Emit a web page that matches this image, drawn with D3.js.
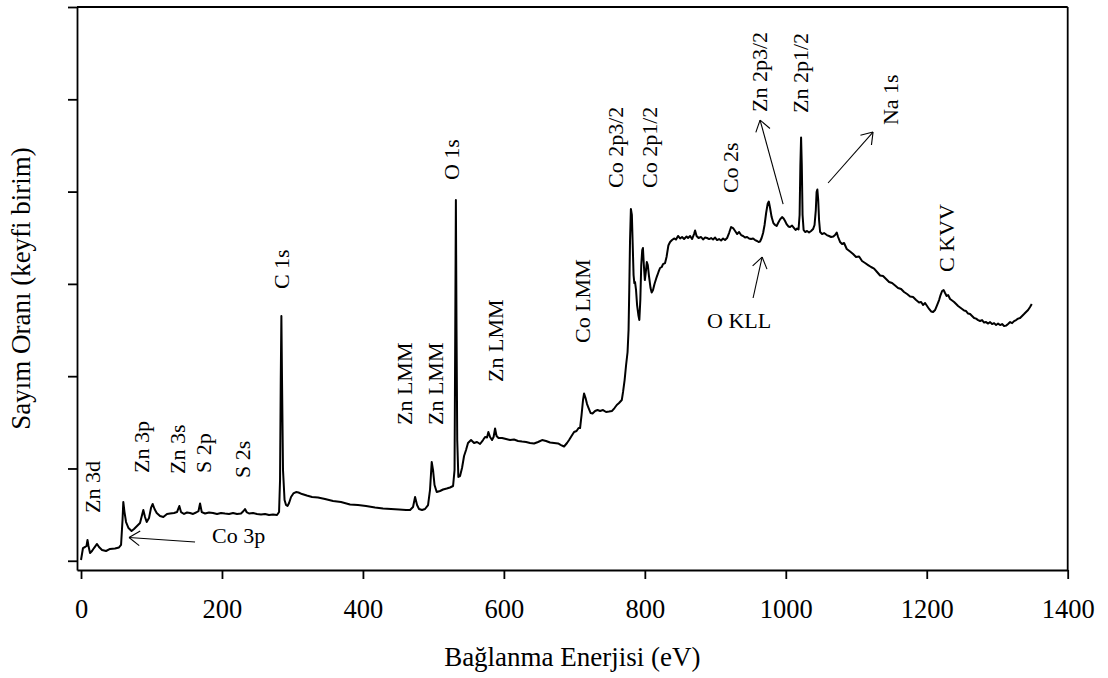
<!DOCTYPE html>
<html><head><meta charset="utf-8">
<script src="https://cdn.jsdelivr.net/npm/d3@7"></script>
<style>
html,body{margin:0;padding:0;background:#fff;}
svg{display:block;}
text{font-family:"Liberation Serif","Times New Roman",serif;fill:#000;}
</style></head>
<body>
<svg id="chart" width="1108" height="678"></svg>
<script>
// XPS survey spectrum: [binding energy (eV), count rate (arb.)]
const spectrum = [[0,0.8],[2.8,13.8],[5.7,14.9],[7.8,16],[9.2,22.5],[10.6,16],[12.8,8.4],[15.6,10.6],[18.4,13.8],[22.7,18.2],[25.5,14.9],[29.8,11.7],[35.5,10.6],[41.2,12.8],[48.2,13.3],[53.9,14.4],[56.8,17.1],[58.9,44.2],[60.0,63.7],[61.7,52.8],[63.9,42],[67.4,35.5],[71.7,32.3],[75.2,34.4],[79.5,37.7],[83.7,40.9],[86.6,49.6],[88.4,55],[90.8,47.4],[93.2,42],[96.5,46.3],[99.3,57.2],[101.7,61.5],[104.3,56.1],[107.4,51.8],[112.1,48.5],[116.8,47.4],[122,50.7],[126.3,51.2],[132,51.8],[136.2,52.8],[139.5,59.3],[141.9,52.8],[146.2,50.7],[150.4,52.3],[154.7,51.8],[159,50.7],[163.2,52.3],[166.7,53.9],[168.9,62],[171.3,52.8],[176,51.2],[181.6,52.3],[187.3,51.8],[193,50.7],[198.7,51.8],[204.3,51.2],[210,50.7],[215.7,51.8],[221.4,50.7],[227,51.2],[230.6,53.9],[232.7,56.1],[234.9,52.8],[238.4,51.2],[244.1,51.8],[249.7,50.7],[255.4,50.1],[261.1,50.7],[266.8,49.6],[272.4,50.1],[278.1,49.6],[281,52.8],[282.4,87.5],[283.4,195.8],[284.3,265.2],[285.2,195.8],[286.6,98.3],[288.8,65.8],[290.9,60.4],[293.0,59.3],[295.2,62.6],[298,69.1],[301.3,72.9],[305.1,74.5],[308.6,74],[313.6,72.3],[320.3,70.7],[327.8,69.1],[336.3,68.5],[346.2,66.9],[357.6,64.8],[368.9,63.7],[381.7,61],[393,60.4],[404.4,59.3],[417.2,57.7],[428.5,56.6],[439.9,56.1],[451.2,55.5],[461.2,55],[466.9,55],[471.1,58.3],[474,69.1],[476.8,60.4],[479.6,56.1],[483.9,55],[488.1,56.1],[492.4,60.4],[495.2,76.7],[497.6,107],[499.5,98.3],[501.6,82.1],[504.7,74.5],[509.4,75.6],[513.7,77.2],[518.9,78.3],[523.6,79.4],[527.9,81],[530,98.3],[531,250],[531.9,390.9],[532.8,250],[533.8,130.8],[535.4,90.8],[537.8,91.8],[540.6,100.5],[543.5,113.5],[546.3,120],[549.1,127.6],[553.4,130.8],[557.7,127.6],[561.9,128.7],[566.2,126.5],[570.4,130.8],[573.3,134.1],[576.1,133.6],[578,139.5],[580.4,134.1],[583.2,130.8],[585.4,134.1],[587.5,143.3],[589.6,135.2],[592.4,133],[597.4,133],[603.1,131.9],[608.8,130.8],[614.4,131.4],[620.1,129.8],[625.8,129.2],[631.5,128.7],[637.1,127.6],[642.8,127.1],[648.5,128.7],[654.2,130.8],[659.8,129.8],[665.5,128.1],[671.2,127.6],[676.9,127.1],[681.1,125.4],[685.4,123.8],[689.6,127.6],[692.5,130.8],[696,135.2],[699.6,139.5],[703.1,140.6],[706,143.8],[708.1,143.8],[710.2,157.9],[712.3,174.2],[713.8,181.2],[715.9,176.3],[718,169.8],[720.2,165.5],[723,160.1],[725.8,159.6],[729.4,162.3],[732.9,163.3],[736.5,162.3],[740.7,163.3],[745,161.2],[749.2,161.7],[753.5,162.3],[757,165.5],[760.2,168.8],[763.4,170.9],[767.3,174.2],[769.1,182.9],[771.3,195.8],[773.4,212.1],[775.5,226.2],[776.9,250],[777.9,293.4],[779,347.5],[780.2,381.1],[781.6,374.6],[783,336.7],[784,309.6],[785.1,300.9],[786.1,302],[787.5,293.4],[789,277.1],[790.8,266.3],[792.2,260.9],[793.6,282.5],[794.9,320.4],[796.3,336.7],[797.3,338.9],[798.6,320.4],[800,304.2],[801.4,312.9],[802.8,323.7],[804.2,320.4],[805.9,308.5],[808.1,295.5],[809.7,290.6],[811.6,293.4],[813.7,299.8],[816.8,307.4],[819.4,312.9],[821.6,317.2],[824,318.3],[825.8,321.5],[828.7,322.6],[830.8,329.1],[833.4,341.6],[835.8,345.4],[838.6,347.5],[841.5,349.2],[844.3,348.1],[847.1,351.9],[850,349.2],[852.8,350.8],[855.7,348.6],[859.2,351.3],[861.3,349.7],[864.2,351.9],[867,348.6],[869.8,354],[871.3,357.8],[873.4,351.9],[876.2,349.7],[879.8,350.8],[882.6,348.1],[885.5,350.2],[888.3,349.7],[891.2,348.6],[894,349.7],[896.8,348.1],[899.7,350.2],[902.5,347.5],[905.3,348.6],[908.2,347],[911,349.2],[913.8,347.5],[916.7,349.7],[919.5,355.1],[922.4,361.6],[925.2,360.5],[928.1,357.3],[930.9,354],[933.7,356.2],[936.6,352.9],[939.4,351.9],[942.2,350.2],[945.1,350.8],[947.9,349.2],[950.8,348.6],[953.6,349.2],[956.4,347.5],[959.3,346.5],[961.4,345.4],[963.5,345.9],[965.7,349.7],[967.8,355.1],[969.9,363.8],[972.1,376.8],[974.2,386.5],[975.9,389.2],[977.7,382.2],[979.9,372.4],[982.4,365.9],[984.8,363.8],[987,362.7],[989.1,365.9],[991.9,369.9],[994.7,372.4],[996.9,370.8],[999,368.1],[1001.1,364.8],[1003.7,362.2],[1006.1,361.6],[1008.9,363.2],[1011.8,360.5],[1013.9,358.4],[1016,360],[1018.1,358.9],[1019.6,374.6],[1020.7,428.8],[1021.7,458.6],[1022.7,428.8],[1023.8,374.6],[1025.3,358.4],[1027.4,356.2],[1030.2,357.3],[1033,355.7],[1035.9,357.3],[1038.7,359.4],[1040.8,363.8],[1042.6,380],[1043.7,399.5],[1044.8,402.2],[1046,390.9],[1047.2,369.2],[1048.7,356.2],[1051.5,354],[1054.3,355.1],[1058.2,352.9],[1061.4,351.9],[1064.3,350.8],[1067.5,351.3],[1069.9,352.9],[1072.3,355.7],[1074.2,350.8],[1077,345.4],[1079.9,343.2],[1082.7,344.3],[1086.5,337.8],[1091.2,335.1],[1095.5,332.4],[1099.7,329.1],[1104,329.7],[1108.2,324.8],[1112.5,322.6],[1116.8,320.4],[1121,318.3],[1125.3,316.6],[1129.5,312.9],[1133.8,309.1],[1138,308.5],[1142.3,305.3],[1146.6,302],[1150.8,300.9],[1155.1,298.2],[1159.3,295.5],[1163.6,294.4],[1167.8,291.2],[1172.1,289],[1176.4,286.3],[1180.6,285.8],[1184.9,282.5],[1189.1,279.8],[1192,280.4],[1194.8,277.1],[1197.6,279.3],[1200.5,276],[1203.3,272.8],[1206.2,270.1],[1209,269.5],[1211.8,271.7],[1214.7,277.1],[1217.5,282.5],[1219.6,287.9],[1221.8,292.3],[1223.9,293.4],[1226,290.1],[1228.2,286.9],[1230.3,287.9],[1233.1,283.6],[1236,282],[1238.8,280.4],[1241.7,278.2],[1244.5,276],[1247.3,274.4],[1250.2,272.8],[1253,271.1],[1255.8,270.6],[1258.7,267.9],[1261.5,267.3],[1264.3,265.2],[1267.2,263],[1270,262.4],[1272.9,260.8],[1275.7,259.8],[1278.5,260.8],[1281.4,258.1],[1284.2,258.6],[1287.1,257],[1289.9,258.6],[1292.7,256.5],[1295.5,257.5],[1298.4,255.4],[1301.2,257],[1304.1,255.4],[1306.9,256.5],[1309.7,254.3],[1312.6,254.8],[1315.4,256.5],[1318.3,258.6],[1321.1,257.5],[1323.9,259.7],[1326.8,260.8],[1329.6,262.4],[1332.4,263],[1335.3,265.2],[1338.1,267.3],[1340.9,269.5],[1343.8,271.7],[1346.6,274.9],[1349,278.2]];

const xTicks = [0, 200, 400, 600, 800, 1000, 1200, 1400];
const yTicks = [0, 100, 200, 300, 400, 500, 600];

// vertical peak labels: text, energy, count level of text start
const peakLabels = ["Zn 3d","Zn 3p","Zn 3s","S 2p","S 2s","C 1s","Zn LMM","Zn LMM","Zn LMM","Co LMM","O 1s","Co 2p3/2","Co 2p1/2","Co 2s","Zn 2p3/2","Zn 2p1/2","Na 1s","C KVV"];
const peakLabelE = [16.3,86.6,137.6,174.5,229.9,285.2,459.8,503.7,588.9,712.3,526.4,759.2,807.5,922.4,962.5,1021.7,1149.4,1229];
const peakLabelV = [51.8,95.1,94,95.1,89.7,294.4,147.1,147.1,193.7,235.9,412.5,403.9,403.9,398.4,486.2,485.1,472.1,312.9];

// horizontal labels
const sideLabels = ["Co 3p","O KLL"];
const sideLabelE = [185.9,888.3];
const sideLabelV = [19.3,252.2];

// arrows: tail (E,V) -> tip (E,V)
const arrowFrom = [[161.8,20.3],[953.6,284.7],[996.2,386.5],[1060,409.3]];
const arrowTo = [[68.1,25.2],[966.4,329.1],[963.5,477.5],[1123.8,464.5]];

const svg = d3.select("#chart");
const x = d3.scaleLinear().domain([-5.7, 1400]).range([77, 1067.7]);
const y = d3.scaleLinear().domain([-10, 600]).range([570, 7]);

// frame (top & right)
svg.append("line").attr("x1", x.range()[0]).attr("x2", x.range()[1]).attr("y1", y(600)).attr("y2", y(600))
  .attr("stroke", "#000").attr("stroke-width", 1.8);
svg.append("line").attr("x1", x.range()[1]).attr("x2", x.range()[1]).attr("y1", y.range()[0]).attr("y2", y.range()[1])
  .attr("stroke", "#000").attr("stroke-width", 1.8);

// x axis
const gx = svg.append("g").attr("transform", `translate(0,${y.range()[0]})`)
  .call(d3.axisBottom(x).tickValues(xTicks).tickSize(9).tickSizeOuter(0).tickFormat(d3.format("d")));
gx.selectAll("path,line").attr("stroke", "#000").attr("stroke-width", 1.8);
gx.selectAll("text").attr("y", 48).attr("dy", 0).style("font-size", "26.5px")
  .style("font-family", '"Liberation Serif","Times New Roman",serif');

// y axis (no labels)
const gy = svg.append("g").attr("transform", `translate(${x.range()[0]},0)`)
  .call(d3.axisLeft(y).tickValues(yTicks).tickSize(9).tickSizeOuter(0).tickFormat(""));
gy.selectAll("path,line").attr("stroke", "#000").attr("stroke-width", 1.8);

// axis titles
svg.append("text").attr("x", (x.range()[0] + x.range()[1]) / 2).attr("y", 666)
  .attr("text-anchor", "middle").style("font-size", "27px").text("Bağlanma Enerjisi (eV)");
svg.append("text").attr("transform", `translate(30,${(y.range()[0] + y.range()[1]) / 2}) rotate(-90)`)
  .attr("text-anchor", "middle").style("font-size", "27px").text("Sayım Oranı (keyfi birim)");

// spectrum
const line = d3.line().x(d => x(d[0])).y(d => y(d[1]));
svg.append("path").datum(spectrum).attr("d", line).attr("fill", "none")
  .attr("stroke", "#000").attr("stroke-width", 2).attr("stroke-linejoin", "round");

// vertical labels
peakLabels.forEach((t, i) => {
  const px = x(peakLabelE[i]), py = y(peakLabelV[i]);
  svg.append("text").attr("transform", `translate(${px},${py}) rotate(-90)`)
    .attr("dy", "0.33em").attr("text-anchor", "start").style("font-size", "22px").text(t);
});

// horizontal labels
sideLabels.forEach((t, i) => {
  svg.append("text").attr("x", x(sideLabelE[i])).attr("y", y(sideLabelV[i]))
    .style("font-size", "22px").text(t);
});

// arrows with open heads
arrowFrom.forEach((f, i) => {
  const x1 = x(f[0]), y1 = y(f[1]), x2 = x(arrowTo[i][0]), y2 = y(arrowTo[i][1]);
  svg.append("line").attr("x1", x1).attr("y1", y1).attr("x2", x2).attr("y2", y2)
    .attr("stroke", "#000").attr("stroke-width", 1.1);
  const ang = Math.atan2(y1 - y2, x1 - x2), L = 13, a = 0.6;
  [ang - a, ang + a].forEach(b => {
    svg.append("line").attr("x1", x2).attr("y1", y2)
      .attr("x2", x2 + L * Math.cos(b)).attr("y2", y2 + L * Math.sin(b))
      .attr("stroke", "#000").attr("stroke-width", 1.1);
  });
});
</script>
</body></html>
